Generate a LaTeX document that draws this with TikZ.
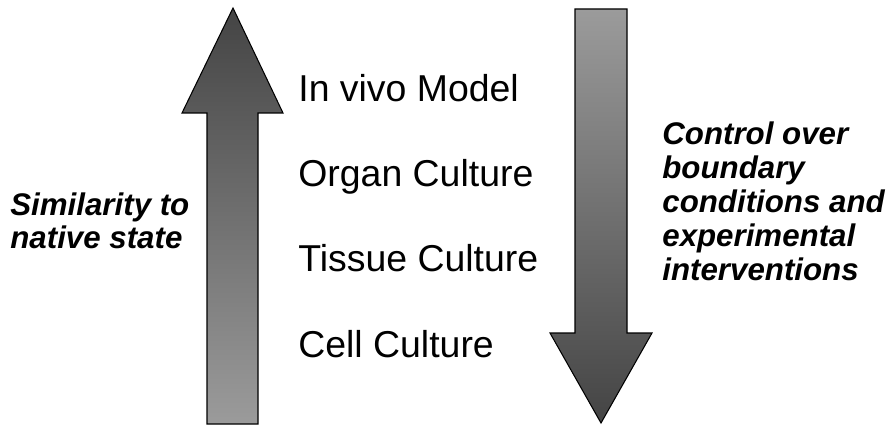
\documentclass[tikz,border=0pt]{standalone}
\usepackage{fontspec}
\setmainfont{Liberation Sans}
\definecolor{arrdark}{RGB}{68,68,68}
\definecolor{arrlight}{RGB}{155,155,155}

\begin{document}
\begin{tikzpicture}[
    x=0.02cm, y=-0.02cm,
    arr/.style={draw=black, line width=0.6pt, line join=miter},
    lvl/.style={anchor=base west, inner sep=0pt, font=\fontsize{21.3}{25}\selectfont},
    side/.style={anchor=base west, inner sep=0pt, align=left,
      font=\fontsize{17.8}{19.3}\selectfont\bfseries\itshape},
  ]
  \useasboundingbox (0,0) rectangle (888,425);

  %% up arrow: similarity grows upwards
  \path[arr, top color=arrdark, bottom color=arrlight]
    (233,8) -- (283,113) -- (258,113) -- (258,424) -- (207,424)
    -- (207,113) -- (182,113) -- cycle;

  %% down arrow: control grows downwards
  \path[arr, top color=arrlight, bottom color=arrdark]
    (575,9) -- (627,9) -- (627,333) -- (652,333) -- (601,423)
    -- (550,333) -- (575,333) -- cycle;

  %% model levels
  \node[lvl] (invivo) at (298,102) {In vivo Model};
  \node[lvl] (organ)  at (298,187) {Organ Culture};
  \node[lvl] (tissue) at (298,272) {Tissue Culture};
  \node[lvl] (cell)   at (298,357) {Cell Culture};

  %% side labels
  \node[side] (simil) at (10,249) {Similarity to\\native state};
  \node[side] (contr) at (662,280) {Control over\\boundary\\conditions and\\experimental\\interventions};
\end{tikzpicture}
\end{document}
